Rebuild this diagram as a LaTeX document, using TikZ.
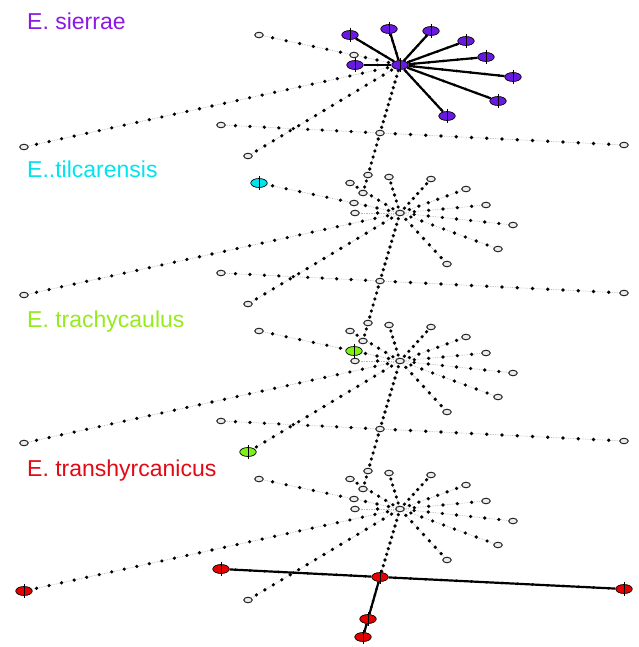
\documentclass[tikz,border=0pt]{standalone}
\usepackage{fontspec}
\setmainfont{Liberation Sans}
\usetikzlibrary{shapes.geometric,calc}
\pgfdeclarelayer{edges}
\pgfsetlayers{edges,main}

% haplotype fills, one per species layer
\definecolor{spfill1}{RGB}{105,25,225}
\definecolor{spfill2}{RGB}{0,228,240}
\definecolor{spfill3}{RGB}{125,240,20}
\definecolor{spfill4}{RGB}{230,0,0}
% species name colours
\definecolor{sptext1}{RGB}{140,25,225}
\definecolor{sptext2}{RGB}{0,228,240}
\definecolor{sptext3}{RGB}{150,235,30}
\definecolor{sptext4}{RGB}{225,10,20}

\begin{document}
\begin{tikzpicture}[x=1pt,y=-1pt,
  hap/.style={ellipse,draw=gray!30!black,fill=gray!15,line width=1pt,
              minimum width=8.5pt,minimum height=5.5pt,inner sep=0pt},
  spnode/.style={ellipse,draw=black,line width=0.7pt,
              minimum width=16.5pt,minimum height=9pt,inner sep=0pt},
  sptick/.style={black,line width=0.7pt},
  guide/.style={gray!55,densely dotted,line width=0.7pt},
  branch/.style={black,line width=2.2pt},
  splabel/.style={anchor=base west,inner sep=0pt,
              font=\fontsize{23pt}{27pt}\selectfont}]
\useasboundingbox (0,0) rectangle (638,647);

% species names
\node[splabel,text=sptext1] (name1) at (27,30)  {E. sierrae};
\node[splabel,text=sptext2] (name2) at (27,178) {E..tilcarensis};
\node[splabel,text=sptext3] (name3) at (27,327) {E. trachycaulus};
\node[splabel,text=sptext4] (name4) at (27,476) {E. transhyrcanicus};

% the same network drawn once per species, shifted down 148pt each time;
% last field: layer in which the haplotype is present (coloured)
\foreach \k in {1,...,4}{
  \pgfmathsetmacro\dy{148*(\k-1)}
  \foreach \n/\x/\y/\c in {H/400/65/1, L1/350/35/1, L2/389/29/1, L3/431/31/1,
      L4/466/41/1, L5/486/57/1, L6/513/77/1, L7/498/101/1, L8/447/116/1,
      L9/355/65/1, N10/354/55/3, UL/259/35/2, LL/248/156/3, FL/24/147/4,
      HL/221/125/4, C/380/133/4, HR/624/145/4, D1/368/175/4, D2/363/193/4}{
    \ifnum\c=\k\relax
      \node[spnode,fill=spfill\k] (\n-\k) at (\x,\y+\dy) {};
      \draw[sptick] ([yshift=2.5pt]\n-\k.north) -- ([yshift=-2.5pt]\n-\k.south);
    \else
      \node[hap] (\n-\k) at (\x,\y+\dy) {};
    \fi
  }
}

% branches with one dot per mutation step;
% last field: layer in which the branch is drawn solid
\begin{pgfonlayer}{edges}
\foreach \k in {1,...,4}{
  \foreach \a/\b/\m/\s in {H/L1/6/1, H/L2/5/1, H/L3/6/1, H/L4/6/1, H/L5/5/1,
      H/L6/7/1, H/L7/8/1, H/L8/7/1, H/L9/1/1, H/N10/3/0, N10/UL/6/0,
      H/FL/29/0, H/LL/17/0, H/C/11/0, HL/C/10/4, C/HR/15/4, C/D1/6/4,
      D1/D2/2/4}{
    \ifnum\s=\k\relax
      \draw[branch] (\a-\k) -- (\b-\k);
      \foreach \i in {1,...,\m}
        \fill ($(\a-\k)!{\i/(\m+1)}!(\b-\k)$) circle (1.5pt);
    \else
      \draw[guide] (\a-\k) -- (\b-\k);
      \foreach \i in {1,...,\m}
        \fill ($(\a-\k)!{\i/(\m+1)}!(\b-\k)$) circle (1.8pt);
    \fi
  }
}
\end{pgfonlayer}
\end{tikzpicture}
\end{document}
